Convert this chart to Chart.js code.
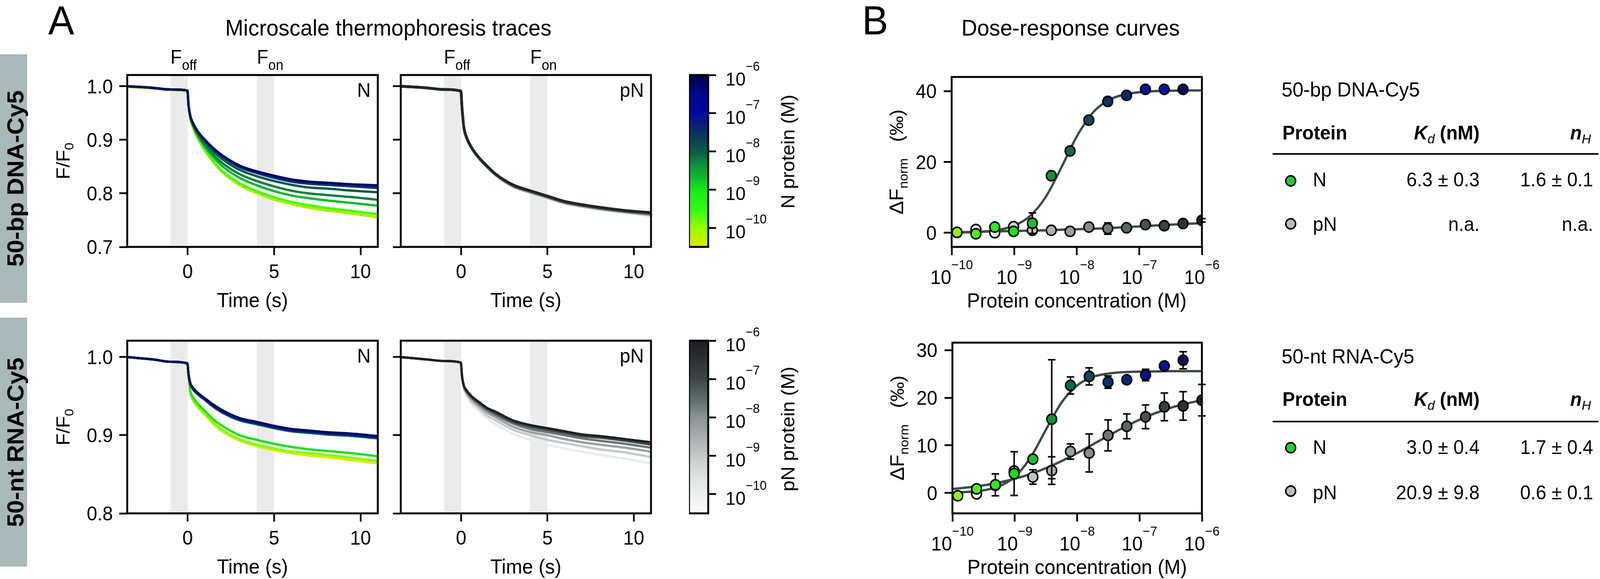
<!DOCTYPE html>
<html>
<head>
  <meta charset="utf-8">
  <title>Microscale thermophoresis traces and dose-response curves</title>
  <script src="https://cdn.jsdelivr.net/npm/chart.js@4.4.1/dist/chart.umd.min.js"></script>
  <style>
    html, body { margin: 0; padding: 0; background: #fff; overflow: hidden; }
    body { font-family: "Liberation Sans", Arial, sans-serif; color: #000; }
    #fig { position: absolute; left: 0; top: 0; width: 4252px; height: 1482px; overflow: hidden;
           background: #fff; transform-origin: 0 0; }
    canvas { position: absolute; }
    .t { position: absolute; white-space: nowrap; line-height: 1; }
    .t sub { line-height: 0; }
    .band { position: absolute; left: 0; width: 72px; background: #a9b8b9; }
    .side { position: absolute; white-space: nowrap; line-height: 1; font-weight: bold; font-size: 62px;
            transform: translate(-50%, -50%) rotate(-90deg); }
    .dot { position: absolute; width: 30px; height: 30px; box-sizing: border-box;
           border: 4px solid #000; border-radius: 50%; }
    .rule { position: absolute; height: 4px; background: #000; }
  </style>
</head>
<body>
<div id="fig"></div>
<script>
  // ---------- traces (F/F0 against time) ----------
  const TIME = [-3.5, -2, -1, -0.02, 0.05, 0.15, 0.3, 0.6, 1, 1.5, 2, 3, 4, 5, 6, 7, 8, 9.5, 11];
  const TIME_TICKS = [0, 5, 10];
  const F_TICKS_DNA = [0.7, 0.8, 0.9, 1.0];
  const F_TICKS_RNA = [0.8, 0.9, 1.0];
  const SWITCH_BANDS = [[-1, 0], [4, 5]];   // F_off and F_on windows (s)

  // 50-bp DNA with N, lowest to highest concentration
  const DNA_N_TRACES = [
    [0.999, 0.996, 0.993, 0.991, 0.961, 0.939, 0.923, 0.901, 0.879, 0.857, 0.839, 0.815, 0.800, 0.788, 0.780, 0.773, 0.768, 0.762, 0.755],
    [0.999, 0.996, 0.993, 0.991, 0.962, 0.940, 0.924, 0.902, 0.880, 0.858, 0.840, 0.816, 0.801, 0.789, 0.780, 0.774, 0.769, 0.763, 0.756],
    [1.000, 0.997, 0.994, 0.992, 0.962, 0.940, 0.925, 0.903, 0.882, 0.860, 0.842, 0.819, 0.804, 0.793, 0.784, 0.778, 0.773, 0.767, 0.761],
    [1.000, 0.997, 0.994, 0.992, 0.963, 0.942, 0.927, 0.907, 0.887, 0.867, 0.851, 0.829, 0.815, 0.804, 0.796, 0.791, 0.787, 0.782, 0.777],
    [1.000, 0.997, 0.994, 0.992, 0.964, 0.943, 0.928, 0.909, 0.891, 0.872, 0.857, 0.836, 0.823, 0.813, 0.805, 0.800, 0.797, 0.793, 0.788],
    [1.000, 0.997, 0.994, 0.992, 0.964, 0.944, 0.930, 0.912, 0.896, 0.878, 0.864, 0.844, 0.832, 0.823, 0.816, 0.811, 0.809, 0.805, 0.802],
    [1.000, 0.997, 0.994, 0.992, 0.965, 0.945, 0.931, 0.914, 0.898, 0.882, 0.869, 0.849, 0.838, 0.829, 0.822, 0.818, 0.816, 0.813, 0.810],
    [1.000, 0.997, 0.994, 0.992, 0.965, 0.945, 0.932, 0.915, 0.899, 0.883, 0.870, 0.851, 0.840, 0.832, 0.825, 0.821, 0.819, 0.816, 0.814],
    [1.000, 0.997, 0.994, 0.992, 0.965, 0.945, 0.932, 0.915, 0.900, 0.884, 0.871, 0.852, 0.841, 0.833, 0.826, 0.822, 0.820, 0.817, 0.815]
  ];
  // 50-bp DNA with pN
  const DNA_PN_TRACES = [
    [1.000, 0.997, 0.994, 0.991, 0.958, 0.922, 0.903, 0.883, 0.865, 0.848, 0.833, 0.812, 0.801, 0.791, 0.781, 0.775, 0.770, 0.764, 0.758],
    [1.000, 0.997, 0.994, 0.991, 0.959, 0.923, 0.904, 0.884, 0.866, 0.849, 0.834, 0.813, 0.802, 0.792, 0.782, 0.776, 0.771, 0.765, 0.760],
    [1.000, 0.997, 0.994, 0.991, 0.959, 0.924, 0.905, 0.885, 0.867, 0.850, 0.835, 0.814, 0.803, 0.793, 0.783, 0.777, 0.772, 0.766, 0.761],
    [1.000, 0.997, 0.994, 0.991, 0.960, 0.925, 0.906, 0.886, 0.868, 0.851, 0.836, 0.815, 0.804, 0.794, 0.784, 0.778, 0.773, 0.767, 0.763],
    [1.000, 0.997, 0.994, 0.991, 0.960, 0.925, 0.906, 0.886, 0.868, 0.851, 0.836, 0.816, 0.805, 0.795, 0.785, 0.779, 0.774, 0.768, 0.764]
  ];
  // 50-nt RNA with N
  const RNA_N_TRACES = [
    [1.000, 0.997, 0.994, 0.992, 0.975, 0.954, 0.945, 0.935, 0.926, 0.914, 0.905, 0.893, 0.886, 0.881, 0.877, 0.874, 0.872, 0.868, 0.864],
    [1.000, 0.997, 0.994, 0.992, 0.975, 0.955, 0.946, 0.937, 0.928, 0.916, 0.907, 0.895, 0.888, 0.883, 0.879, 0.877, 0.875, 0.871, 0.867],
    [1.000, 0.997, 0.994, 0.992, 0.976, 0.957, 0.949, 0.940, 0.931, 0.920, 0.912, 0.900, 0.894, 0.889, 0.885, 0.882, 0.880, 0.877, 0.873],
    [1.000, 0.997, 0.994, 0.992, 0.978, 0.966, 0.959, 0.952, 0.945, 0.936, 0.929, 0.919, 0.914, 0.909, 0.905, 0.903, 0.901, 0.899, 0.896],
    [1.000, 0.997, 0.994, 0.992, 0.978, 0.966, 0.960, 0.953, 0.946, 0.937, 0.930, 0.920, 0.915, 0.910, 0.906, 0.904, 0.902, 0.900, 0.897],
    [1.000, 0.997, 0.994, 0.992, 0.978, 0.967, 0.960, 0.953, 0.946, 0.938, 0.931, 0.921, 0.916, 0.911, 0.907, 0.905, 0.903, 0.901, 0.898],
    [1.000, 0.997, 0.994, 0.992, 0.978, 0.967, 0.961, 0.954, 0.947, 0.939, 0.932, 0.922, 0.917, 0.912, 0.908, 0.906, 0.904, 0.902, 0.899]
  ];
  // 50-nt RNA with pN
  const RNA_PN_TRACES = [
    [1.000, 0.997, 0.995, 0.993, 0.974, 0.959, 0.951, 0.940, 0.931, 0.921, 0.914, 0.902, 0.894, 0.888, 0.883, 0.879, 0.875, 0.870, 0.864],
    [1.000, 0.997, 0.995, 0.993, 0.975, 0.961, 0.953, 0.943, 0.935, 0.925, 0.919, 0.907, 0.900, 0.894, 0.890, 0.886, 0.882, 0.878, 0.872],
    [1.000, 0.997, 0.995, 0.993, 0.975, 0.962, 0.955, 0.946, 0.938, 0.929, 0.923, 0.911, 0.904, 0.900, 0.895, 0.891, 0.888, 0.884, 0.879],
    [1.000, 0.997, 0.995, 0.993, 0.976, 0.963, 0.956, 0.948, 0.940, 0.932, 0.926, 0.915, 0.908, 0.904, 0.900, 0.896, 0.893, 0.889, 0.884],
    [1.000, 0.997, 0.995, 0.993, 0.976, 0.964, 0.957, 0.949, 0.942, 0.934, 0.928, 0.917, 0.911, 0.907, 0.903, 0.899, 0.897, 0.893, 0.888],
    [1.000, 0.997, 0.995, 0.993, 0.976, 0.964, 0.958, 0.950, 0.943, 0.935, 0.930, 0.919, 0.913, 0.909, 0.905, 0.901, 0.899, 0.895, 0.891]
  ];

  // ---------- dose-response ----------
  const CONC_N  = [1.22e-10, 2.44e-10, 4.88e-10, 9.77e-10, 1.95e-9, 3.91e-9, 7.81e-9, 1.56e-8, 3.13e-8, 6.25e-8, 1.25e-7, 2.5e-7, 5e-7];
  const CONC_PN = [2.44e-10, 4.88e-10, 9.77e-10, 1.95e-9, 3.91e-9, 7.81e-9, 1.56e-8, 3.13e-8, 6.25e-8, 1.25e-7, 2.5e-7, 5e-7, 1e-6];

  const DNA_N_DF   = [0.1, -0.3, 1.6, 0.4, 2.7, 16.1, 23.1, 31.8, 37.1, 38.8, 40.5, 40.5, 40.5];
  const DNA_N_ERR  = [0.3, 0.3, 0.5, 0.4, 2.9, 0.6, 0.6, 0.6, 0.6, 0.5, 0.5, 0.4, 0.4];
  const DNA_PN_DF  = [0.9, 0.0, 1.7, 0.7, 0.7, 0.4, 1.6, 1.2, 1.4, 2.3, 2.0, 2.6, 3.5];
  const DNA_PN_ERR = [0.4, 0.4, 0.4, 0.8, 0.4, 0.4, 0.4, 1.6, 0.5, 0.5, 0.5, 0.5, 0.5];

  const RNA_N_DF   = [-0.6, 0.85, 1.7, 4.05, 7.1, 15.5, 22.6, 24.5, 23.3, 23.8, 24.8, 26.7, 27.9];
  const RNA_N_ERR  = [0.3, 0.4, 2.3, 4.6, 0.5, 12.5, 1.8, 1.8, 1.3, 0.5, 1.2, 0.5, 1.8];
  const RNA_PN_DF  = [-0.2, 1.6, 4.6, 3.35, 4.7, 8.7, 8.4, 12.1, 14.0, 16.0, 18.1, 18.3, 19.5];
  const RNA_PN_ERR = [0.4, 0.5, 0.6, 1.5, 2.9, 1.6, 4.0, 3.25, 2.6, 2.5, 2.9, 3.0, 3.3];

  // fitted curves
  const FIT_CONC   = [1e-10, 1.78e-10, 3.16e-10, 5.62e-10, 1e-9, 1.78e-9, 3.16e-9, 5.62e-9, 1e-8, 1.78e-8, 3.16e-8, 5.62e-8, 1e-7, 1.78e-7, 3.16e-7, 5.62e-7, 1e-6];
  const DNA_N_FIT  = [0.05, 0.13, 0.33, 0.82, 2.0, 4.7, 10.0, 18.3, 27.2, 33.8, 37.4, 39.0, 39.7, 40.0, 40.1, 40.2, 40.2];
  const DNA_PN_FIT = [0.1, 0.2, 0.3, 0.4, 0.5, 0.6, 0.7, 0.85, 1.0, 1.15, 1.3, 1.55, 1.8, 2.05, 2.3, 2.5, 2.7];
  const RNA_N_FIT  = [0.08, 0.21, 0.54, 1.39, 3.4, 7.4, 13.3, 19.0, 22.6, 24.4, 25.1, 25.4, 25.5, 25.55, 25.6, 25.6, 25.6];
  const RNA_PN_FIT = [0.83, 1.16, 1.60, 2.19, 2.97, 3.97, 5.21, 6.69, 8.37, 10.19, 12.02, 13.78, 15.39, 16.76, 17.9, 18.79, 19.5];

  const DR_TICKS_DNA = [0, 20, 40];
  const DR_TICKS_RNA = [0, 10, 20, 30];
  const LOG_TICKS = [-10, -9, -8, -7, -6];
  const CBAR_RANGE = [-10.5, -6];

  // fit results
  const FIT_PROTEINS = ['N', 'pN'];
  const DNA_KD = ['6.3 ± 0.3', 'n.a.'];
  const DNA_NH = ['1.6 ± 0.1', 'n.a.'];
  const RNA_KD = ['3.0 ± 0.4', '20.9 ± 9.8'];
  const RNA_NH = ['1.7 ± 0.4', '0.6 ± 0.1'];

  // ---------- styles ----------
  const PAGE_W = 4252;
  const FONT = '"Liberation Sans", Arial, sans-serif';
  const DNA_N_COLORS = ['#e0e400', '#a8f000', '#40ff10', '#10b830', '#0b8040', '#0a5850', '#0a3a68', '#0010a0', '#050a60'];
  const DNA_PN_COLORS = ['#e4e4e4', '#b0b8b8', '#7a8484', '#4a5454', '#1e2626'];
  const RNA_N_COLORS = ['#d8ee00', '#80ff00', '#20e020', '#0b6a4c', '#0a3a68', '#0010a0', '#050a60'];
  const RNA_PN_COLORS = ['#ececec', '#c4caca', '#9aa2a2', '#6c7676', '#424a4a', '#1c2222'];
  const N_POINT_COLORS = ['#98f000', '#50f010', '#28f018', '#14e414', '#18c030', '#10903e', '#0a6a4a', '#0a4c5a', '#0a3468', '#0a2478', '#0a12a0', '#0a10a0', '#08085e'];
  const PN_POINT_COLORS = ['#f4f4f4', '#e4e6e6', '#d0d5d5', '#bcc3c3', '#a9b2b2', '#96a0a0', '#838f8e', '#6e7a7a', '#5a6666', '#485454', '#384242', '#2a3232', '#1e2424'];
  const FIT_COLOR = '#3d4a4a';
  const N_STOPS = [[0, '#e2e600'], [0.11, '#94ff00'], [0.22, '#2cff12'], [0.33, '#14ec16'], [0.42, '#10b030'],
                   [0.49, '#0b8a3c'], [0.556, '#0a5a48'], [0.644, '#0a3a5c'], [0.711, '#0a207a'], [0.778, '#0008a0'],
                   [0.889, '#00078a'], [1, '#00004a']];
  const PN_STOPS = [[0, '#fbfbfb'], [0.2, '#e2e5e5'], [0.333, '#c3c9c9'], [0.556, '#889493'], [0.667, '#5d6a69'],
                    [0.778, '#3c4646'], [1, '#1a1f20']];

  // the figure is laid out at 4252 px; squeeze it horizontally if the window is narrower
  const fig = document.getElementById('fig');
  fig.style.transform = 'scaleX(' + Math.min(1, window.innerWidth / PAGE_W) + ')';

  // ---------- helpers ----------
  function rich(ctx, parts, x, y, align, rot) {
    // parts: [text, size, dy, weight]
    ctx.save();
    ctx.translate(x, y);
    if (rot) ctx.rotate(rot);
    ctx.textBaseline = 'alphabetic';
    ctx.textAlign = 'left';
    ctx.fillStyle = '#000';
    let total = 0;
    const widths = parts.map(p => {
      ctx.font = (p[3] || '') + ' ' + p[1] + 'px ' + FONT;
      const w = ctx.measureText(p[0]).width;
      total += w;
      return w;
    });
    let cx = align === 'center' ? -total / 2 : align === 'right' ? -total : 0;
    parts.forEach((p, i) => {
      ctx.font = (p[3] || '') + ' ' + p[1] + 'px ' + FONT;
      ctx.fillText(p[0], cx, p[2] || 0);
      cx += widths[i];
    });
    ctx.restore();
  }

  function place(area, m) {
    const c = document.createElement('canvas');
    const w = area.r - area.l + m.left + m.right;
    const h = area.b - area.t + m.top + m.bottom;
    c.width = w; c.height = h;
    c.style.left = (area.l - m.left) + 'px';
    c.style.top = (area.t - m.top) + 'px';
    c.style.width = w + 'px';
    c.style.height = h + 'px';
    fig.appendChild(c);
    return c;
  }

  // html text with its baseline at y; align left / right / center on x
  function text(html, x, baseline, size, opt) {
    opt = opt || {};
    const d = document.createElement('div');
    d.className = 't';
    d.innerHTML = html;
    d.style.fontSize = size + 'px';
    d.style.top = (baseline - 0.8465 * size) + 'px';
    if (opt.bold) d.style.fontWeight = 'bold';
    if (opt.align === 'right') {
      d.style.right = (PAGE_W - x) + 'px';
      d.style.textAlign = 'right';
    } else if (opt.align === 'center') {
      d.style.left = (x - 1000) + 'px';
      d.style.width = '2000px';
      d.style.textAlign = 'center';
    } else {
      d.style.left = x + 'px';
    }
    fig.appendChild(d);
    return d;
  }

  const tickGrid = () => ({ drawOnChartArea: false, drawTicks: true, tickLength: 21, tickWidth: 4.5, tickColor: '#000' });
  const fixedTicks = vals => s => { s.ticks = vals.map(v => ({ value: v })); };

  const boxPlugin = {
    id: 'box',
    afterDatasetsDraw(chart) {
      const a = chart.chartArea, ctx = chart.ctx;
      ctx.save();
      ctx.lineWidth = 5;
      ctx.strokeStyle = '#000';
      ctx.strokeRect(a.left, a.top, a.right - a.left, a.bottom - a.top);
      ctx.restore();
    }
  };

  const bandPlugin = {
    id: 'bands',
    beforeDatasetsDraw(chart) {
      const { ctx, chartArea: a, scales: { x } } = chart;
      ctx.save();
      ctx.fillStyle = '#ebebeb';
      SWITCH_BANDS.forEach(([x0, x1]) => {
        const p0 = x.getPixelForValue(x0), p1 = x.getPixelForValue(x1);
        ctx.fillRect(p0, a.top, p1 - p0, a.bottom - a.top);
      });
      ctx.restore();
    }
  };

  const errPlugin = {
    id: 'errbars',
    beforeDatasetDraw(chart, args) {
      const ds = chart.data.datasets[args.index];
      if (!ds.errors) return;
      const { ctx, scales: { x, y } } = chart;
      ctx.save();
      ctx.strokeStyle = '#000';
      ctx.lineWidth = 4;
      ds.data.forEach((p, i) => {
        const e = ds.errors[i];
        const px = x.getPixelForValue(p.x);
        const y0 = y.getPixelForValue(p.y - e), y1 = y.getPixelForValue(p.y + e);
        ctx.beginPath();
        ctx.moveTo(px, y0); ctx.lineTo(px, y1);
        ctx.moveTo(px - 10, y0); ctx.lineTo(px + 10, y0);
        ctx.moveTo(px - 10, y1); ctx.lineTo(px + 10, y1);
        ctx.stroke();
      });
      ctx.restore();
    }
  };

  const baseOpts = m => ({
    responsive: false, animation: false, devicePixelRatio: 1,
    layout: { padding: { top: m.top, right: m.right, left: 0, bottom: 0 } },
    plugins: { legend: { display: false }, tooltip: { enabled: false } }
  });

  // ---------- chart builders ----------
  function traceChart(area, traces, colors, width, yMin, yTicks, tag, withLabels) {
    const m = { left: withLabels ? 200 : 40, right: 12, top: 12, bottom: 175 };
    const canvas = place(area, m);
    const datasets = traces.map((vals, i) => ({
      data: TIME.map((t, j) => ({ x: t, y: vals[j] })),
      borderColor: colors[i], borderWidth: width, pointRadius: 0,
      cubicInterpolationMode: 'monotone', order: traces.length - i
    }));
    const opts = baseOpts(m);
    opts.scales = {
      x: { type: 'linear', min: -3.5, max: 11, afterBuildTicks: fixedTicks(TIME_TICKS),
           afterFit: s => { s.height = m.bottom; }, ticks: { display: false }, grid: tickGrid(), border: { display: false } },
      y: { type: 'linear', min: yMin, max: 1.021, afterBuildTicks: fixedTicks(yTicks),
           afterFit: s => { s.width = m.left; }, ticks: { display: false }, grid: tickGrid(), border: { display: false } }
    };
    return new Chart(canvas, {
      type: 'line', data: { datasets }, options: opts,
      plugins: [bandPlugin, boxPlugin, {
        id: 'traceText',
        afterDraw(chart) {
          const { ctx, chartArea: a, scales: { x, y } } = chart;
          TIME_TICKS.forEach(t => rich(ctx, [[String(t), 50]], x.getPixelForValue(t), a.bottom + 80, 'center'));
          rich(ctx, [['Time (s)', 52]], (a.left + a.right) / 2, a.bottom + 154, 'center');
          rich(ctx, [[tag, 50]], a.right - 19, a.top + 56, 'right');
          if (withLabels) {
            yTicks.forEach(v => rich(ctx, [[v.toFixed(1), 50]], a.left - 38, y.getPixelForValue(v) + 18, 'right'));
            rich(ctx, [['F/F', 50], ['0', 34, 10]], a.left - 153, (a.top + a.bottom) / 2, 'center', -Math.PI / 2);
          }
        }
      }]
    });
  }

  function colorbarChart(area, stops, label, labelCy) {
    const m = { left: 0, right: 340, top: 70, bottom: 12 };
    const canvas = place(area, m);
    const opts = baseOpts(m);
    opts.layout.padding.bottom = m.bottom;
    opts.layout.padding.right = 0;
    opts.scales = {
      x: { display: false },
      y: { type: 'logarithmic', position: 'right', min: 10 ** CBAR_RANGE[0], max: 10 ** CBAR_RANGE[1],
           afterBuildTicks: fixedTicks(LOG_TICKS.map(e => 10 ** e)),
           afterFit: s => { s.width = m.right; }, ticks: { display: false }, grid: tickGrid(), border: { display: false } }
    };
    return new Chart(canvas, {
      type: 'bar',
      data: { labels: [''], datasets: [{
        data: [[10 ** CBAR_RANGE[0], 10 ** CBAR_RANGE[1]]],
        backgroundColor: c => {
          const a = c.chart.chartArea;
          if (!a) return stops[0][1];
          const g = c.chart.ctx.createLinearGradient(0, a.bottom, 0, a.top);
          stops.forEach(([f, col]) => g.addColorStop(f, col));
          return g;
        },
        barPercentage: 1, categoryPercentage: 1, borderWidth: 0
      }] },
      options: opts,
      plugins: [boxPlugin, {
        id: 'cbarText',
        afterDraw(chart) {
          const { ctx, chartArea: a, scales: { y } } = chart;
          LOG_TICKS.forEach(e => rich(ctx, [['10', 48], ['\u2212' + (-e), 33, -38]], a.right + 46, y.getPixelForValue(10 ** e) + 27, 'left'));
          rich(ctx, [[label, 50]], a.right + 229, a.top + labelCy, 'center', -Math.PI / 2);
        }
      }]
    });
  }

  function doseChart(area, yMin, yMax, yTicks, nDF, nErr, pDF, pErr, nFit, pFit) {
    const m = { left: 200, right: 70, top: 12, bottom: 175 };
    const canvas = place(area, m);
    const pts = (xs, ys) => xs.map((v, i) => ({ x: v, y: ys[i] }));
    const markers = (data, errors, colors, order) => ({
      data, errors, order, showLine: false,
      pointRadius: 13, pointBorderWidth: 4, pointBorderColor: '#000', pointBackgroundColor: colors
    });
    const fit = (data, order) => ({
      data, order, showLine: true, borderColor: FIT_COLOR, borderWidth: 6, pointRadius: 0,
      cubicInterpolationMode: 'monotone'
    });
    const opts = baseOpts(m);
    opts.scales = {
      x: { type: 'logarithmic', min: 1e-10, max: 1e-6, afterBuildTicks: fixedTicks(LOG_TICKS.map(e => 10 ** e)),
           afterFit: s => { s.height = m.bottom; }, ticks: { display: false }, grid: tickGrid(), border: { display: false } },
      y: { type: 'linear', min: yMin, max: yMax, afterBuildTicks: fixedTicks(yTicks),
           afterFit: s => { s.width = m.left; }, ticks: { display: false }, grid: tickGrid(), border: { display: false } }
    };
    return new Chart(canvas, {
      type: 'scatter',
      data: { datasets: [
        markers(pts(CONC_N, nDF), nErr, N_POINT_COLORS, 0),
        markers(pts(CONC_PN, pDF), pErr, PN_POINT_COLORS, 1),
        fit(pts(FIT_CONC, nFit), 2),
        fit(pts(FIT_CONC, pFit), 3)
      ] },
      options: opts,
      plugins: [errPlugin, boxPlugin, {
        id: 'doseText',
        afterDraw(chart) {
          const { ctx, chartArea: a, scales: { x, y } } = chart;
          yTicks.forEach(v => rich(ctx, [[String(v), 50]], a.left - 40, y.getPixelForValue(v) + 18, 'right'));
          LOG_TICKS.forEach(e => rich(ctx, [['10', 50], ['\u2212' + (-e), 34, -38]], x.getPixelForValue(10 ** e), a.bottom + 95, 'center'));
          rich(ctx, [['Protein concentration (M)', 52]], (a.left + a.right) / 2, a.bottom + 155, 'center');
          rich(ctx, [['\u0394F', 52], ['norm', 34, 12], ['   (\u2030)', 50]], a.left - 129, (a.top + a.bottom) / 2, 'center', -Math.PI / 2);
        }
      }]
    });
  }

  // ---------- build ----------
  const dnaN = traceChart({ l: 338, t: 192, r: 1004, b: 632 }, DNA_N_TRACES, DNA_N_COLORS, 6, 0.7, F_TICKS_DNA, 'N', true);
  const dnaPN = traceChart({ l: 1065, t: 192, r: 1730, b: 632 }, DNA_PN_TRACES, DNA_PN_COLORS, 7, 0.7, F_TICKS_DNA, 'pN', false);
  traceChart({ l: 338, t: 872, r: 1004, b: 1314 }, RNA_N_TRACES, RNA_N_COLORS, 6, 0.8, F_TICKS_RNA, 'N', true);
  traceChart({ l: 1065, t: 872, r: 1730, b: 1314 }, RNA_PN_TRACES, RNA_PN_COLORS, 6, 0.8, F_TICKS_RNA, 'pN', false);

  colorbarChart({ l: 1831, t: 192, r: 1882, b: 632 }, N_STOPS, 'N protein (M)', 196);
  colorbarChart({ l: 1831, t: 872, r: 1882, b: 1314 }, PN_STOPS, 'pN protein (M)', 226);

  doseChart({ l: 2529, t: 192, r: 3194, b: 632 }, -4, 44, DR_TICKS_DNA,
            DNA_N_DF, DNA_N_ERR, DNA_PN_DF, DNA_PN_ERR, DNA_N_FIT, DNA_PN_FIT);
  doseChart({ l: 2531, t: 872, r: 3194, b: 1314 }, -4.3, 31.6, DR_TICKS_RNA,
            RNA_N_DF, RNA_N_ERR, RNA_PN_DF, RNA_PN_ERR, RNA_N_FIT, RNA_PN_FIT);

  // ---------- annotations ----------
  text('A', 128, 88, 104);
  text('B', 2291, 88, 104);
  text('Microscale thermophoresis traces', 1032, 91, 58, { align: 'center' });
  text('Dose-response curves', 2845, 91, 58, { align: 'center' });

  // F_off / F_on labels over the top-row switch windows
  [dnaN, dnaPN].forEach(ch => {
    const off = ch.canvas.offsetLeft;
    ['off', 'on'].forEach((s, i) => {
      text('F<sub style="font-size:36px;vertical-align:-16px">' + s + '</sub>',
           off + ch.scales.x.getPixelForValue(SWITCH_BANDS[i][0]), 163, 50);
    });
  });

  // side bands
  [[139, 775, '50-bp DNA-Cy5'], [813, 1450, '50-nt RNA-Cy5']].forEach(([y0, y1, s]) => {
    const b = document.createElement('div');
    b.className = 'band';
    b.style.top = y0 + 'px';
    b.style.height = (y1 - y0) + 'px';
    fig.appendChild(b);
    const t = document.createElement('div');
    t.className = 'side';
    t.textContent = s;
    t.style.left = '41px';
    t.style.top = ((y0 + y1) / 2) + 'px';
    fig.appendChild(t);
  });

  // fit tables
  function table(title, kd, nh, y) {
    text(title, 3406, y.title, 52);
    text('Protein', 3408, y.head, 50, { bold: true });
    text('<i>K</i><sub style="font-size:34px;vertical-align:-10px;font-weight:normal"><i>d</i></sub> (nM)', 3932, y.head, 50, { bold: true, align: 'right' });
    text('<i>n</i><sub style="font-size:34px;vertical-align:-10px;font-weight:normal"><i>H</i></sub>', 4228, y.head, 50, { bold: true, align: 'right' });
    const r = document.createElement('div');
    r.className = 'rule';
    r.style.left = '3382px';
    r.style.width = '866px';
    r.style.top = (y.rule - 2) + 'px';
    fig.appendChild(r);
    FIT_PROTEINS.forEach((p, i) => {
      const dot = document.createElement('div');
      dot.className = 'dot';
      dot.style.left = (3430 - 15) + 'px';
      dot.style.top = (y.dots[i] - 15) + 'px';
      dot.style.background = i === 0 ? '#20d030' : '#b6bebe';
      fig.appendChild(dot);
      text(p, 3489, y.rows[i], 50);
      text(kd[i], 3932, y.rows[i], 50, { align: 'right' });
      text(nh[i], 4234, y.rows[i], 50, { align: 'right' });
    });
  }
  table('50-bp DNA-Cy5', DNA_KD, DNA_NH, { title: 247, head: 357, rule: 394, dots: [463, 573], rows: [477, 591] });
  table('50-nt RNA-Cy5', RNA_KD, RNA_NH, { title: 930, head: 1039, rule: 1079, dots: [1146, 1257], rows: [1162, 1278] });
</script>
</body>
</html>
